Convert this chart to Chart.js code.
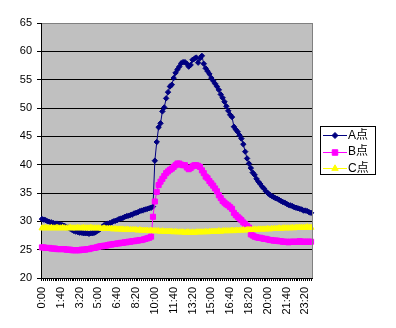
<!DOCTYPE html>
<html><head><meta charset="utf-8">
<script src="https://cdn.jsdelivr.net/npm/chart.js@4/dist/chart.umd.min.js"></script>
<style>html,body{margin:0;padding:0;background:#fff}canvas{display:block}</style>
</head><body>
<canvas id="c" width="396" height="328"></canvas>
<script>
const categories = ("0:00 0:10 0:20 0:30 0:40 0:50 1:00 1:10 1:20 1:30 1:40 1:50 " +
 "2:00 2:10 2:20 2:30 2:40 2:50 3:00 3:10 3:20 3:30 3:40 3:50 " +
 "4:00 4:10 4:20 4:30 4:40 4:50 5:00 5:10 5:20 5:30 5:40 5:50 " +
 "6:00 6:10 6:20 6:30 6:40 6:50 7:00 7:10 7:20 7:30 7:40 7:50 " +
 "8:00 8:10 8:20 8:30 8:40 8:50 9:00 9:10 9:20 9:30 9:40 9:50 " +
 "10:00 10:10 10:20 10:30 10:40 10:50 11:00 11:10 11:20 11:30 11:40 11:50 " +
 "12:00 12:10 12:20 12:30 12:40 12:50 13:00 13:10 13:20 13:30 13:40 13:50 " +
 "14:00 14:10 14:20 14:30 14:40 14:50 15:00 15:10 15:20 15:30 15:40 15:50 " +
 "16:00 16:10 16:20 16:30 16:40 16:50 17:00 17:10 17:20 17:30 17:40 17:50 " +
 "18:00 18:10 18:20 18:30 18:40 18:50 19:00 19:10 19:20 19:30 19:40 19:50 " +
 "20:00 20:10 20:20 20:30 20:40 20:50 21:00 21:10 21:20 21:30 21:40 21:50 " +
 "22:00 22:10 22:20 22:30 22:40 22:50 23:00 23:10 23:20 23:30 23:40 23:50").split(" ");

const seriesNames = ["A点", "B点", "C点"];

const seriesA = [
 30.4,30.3,30.2,30.0,29.9,29.8,29.7,29.6,29.6,29.5,
 29.4,29.3,29.2,29.0,28.9,28.7,28.5,28.3,28.2,28.1,
 28.0,28.0,27.9,27.9,27.9,27.8,27.9,27.9,28.0,28.2,
 28.4,28.7,29.0,29.3,29.5,29.6,29.7,29.8,30.0,30.1,
 30.2,30.4,30.5,30.6,30.8,30.9,31.0,31.1,31.2,31.4,
 31.5,31.6,31.8,31.9,32.0,32.1,32.2,32.3,32.4,32.6,
 40.7,44.0,46.6,47.3,49.4,50.1,51.7,52.8,53.8,54.1,
 55.3,56.2,56.8,57.3,57.9,58.1,58.1,57.8,57.3,57.6,
 58.5,58.7,58.9,58.0,58.8,59.2,57.8,57.0,56.5,56.0,
 55.3,54.8,54.3,53.8,53.2,52.4,51.8,51.1,50.3,49.5,
 48.8,48.4,46.7,46.2,45.8,45.2,44.6,43.6,42.3,41.1,
 40.2,39.4,38.6,38.2,37.5,37.0,36.6,36.1,35.8,35.3,
 35.0,34.7,34.5,34.3,34.1,34.0,33.8,33.6,33.4,33.3,
 33.1,32.9,32.8,32.7,32.5,32.4,32.3,32.2,32.1,31.9,
 31.9,31.8,31.6,31.5
];

const seriesB = [
 25.4,25.4,25.3,25.3,25.3,25.2,25.2,25.2,25.1,25.1,
 25.1,25.1,25.1,25.0,25.0,25.0,24.9,24.9,24.9,24.9,
 24.9,25.0,25.0,25.0,25.1,25.1,25.2,25.3,25.3,25.4,
 25.5,25.6,25.6,25.7,25.7,25.8,25.9,25.9,26.0,26.0,
 26.1,26.1,26.2,26.2,26.3,26.3,26.4,26.4,26.5,26.5,
 26.6,26.6,26.7,26.7,26.8,26.9,27.0,27.1,27.3,30.8,
 33.5,35.2,36.4,37.0,37.5,38.0,38.5,38.8,39.1,39.3,
 39.6,39.9,40.2,40.2,40.0,39.9,39.9,39.5,39.2,39.4,
 39.7,39.9,39.9,39.8,39.6,39.0,38.5,37.9,37.6,37.1,
 36.7,36.3,35.8,35.3,34.6,34.1,33.6,33.3,33.0,32.8,
 32.5,32.2,31.5,31.1,30.8,30.5,30.2,29.8,29.5,29.2,
 28.9,27.7,27.5,27.3,27.2,27.1,27.1,27.0,26.9,26.9,
 26.8,26.7,26.7,26.6,26.6,26.6,26.5,26.5,26.4,26.4,
 26.4,26.3,26.4,26.4,26.4,26.4,26.4,26.5,26.4,26.4,
 26.4,26.4,26.4,26.4
];

const seriesC = [
 28.8,28.8,28.9,28.8,28.8,28.9,28.8,28.8,28.9,28.8,
 28.8,28.9,28.8,28.8,28.8,28.9,28.8,28.8,28.8,28.9,
 28.8,28.8,28.9,28.8,28.8,28.8,28.9,28.8,28.8,28.8,
 28.8,28.8,28.7,28.8,28.7,28.7,28.7,28.7,28.6,28.7,
 28.6,28.6,28.6,28.6,28.5,28.6,28.5,28.5,28.5,28.5,
 28.5,28.4,28.5,28.4,28.4,28.4,28.4,28.3,28.4,28.3,
 28.3,28.3,28.3,28.2,28.3,28.2,28.2,28.2,28.2,28.2,
 28.1,28.2,28.1,28.1,28.1,28.1,28.0,28.1,28.1,28.0,
 28.1,28.0,28.1,28.1,28.1,28.1,28.1,28.2,28.1,28.2,
 28.2,28.2,28.2,28.2,28.3,28.2,28.3,28.3,28.3,28.3,
 28.3,28.4,28.3,28.4,28.4,28.4,28.4,28.5,28.4,28.5,
 28.5,28.5,28.5,28.6,28.5,28.6,28.6,28.6,28.6,28.6,
 28.7,28.6,28.7,28.7,28.7,28.7,28.8,28.7,28.8,28.8,
 28.8,28.8,28.8,28.9,28.8,28.9,28.9,28.9,28.9,28.9,
 28.9,29.0,28.9,28.9
];

const yMin = 20, yMax = 65, yStep = 5;
const labelEvery = 10;

const FONT = '"Liberation Sans", Arial, "Noto Sans CJK JP", sans-serif';

const excelPlugin = {
  id: 'excelLook',
  beforeDraw(chart) {
    const {ctx, chartArea: a} = chart;
    ctx.save();
    ctx.fillStyle = '#C0C0C0';
    ctx.fillRect(a.left, a.top, a.right - a.left, a.bottom - a.top);
    ctx.restore();
  },
  afterDraw(chart) {
    const {ctx, chartArea: a} = chart;
    ctx.save();
    ctx.strokeStyle = '#808080';
    ctx.lineWidth = 1;
    ctx.beginPath();
    ctx.moveTo(Math.round(a.right) + 0.5, a.top);
    ctx.lineTo(Math.round(a.right) + 0.5, a.bottom);
    ctx.stroke();

    // legend box
    const lx = 320, ly = 126, lw = 55, lh = 48;
    ctx.fillStyle = '#fff';
    ctx.fillRect(lx, ly, lw, lh);
    ctx.strokeStyle = '#000';
    ctx.strokeRect(lx + 0.5, ly + 0.5, lw, lh);
    const rows = [135, 151.5, 168];
    chart.data.datasets.forEach((ds, i) => {
      const y = rows[i];
      ctx.strokeStyle = ds.borderColor;
      ctx.lineWidth = 1;
      ctx.beginPath();
      ctx.moveTo(323, Math.round(y) + 0.5);
      ctx.lineTo(347, Math.round(y) + 0.5);
      ctx.stroke();
      ctx.fillStyle = ds.pointBackgroundColor;
      ctx.strokeStyle = ds.pointBorderColor;
      Chart.helpers.drawPoint(ctx, {pointStyle: ds.pointStyle, radius: ds.pointRadius + 0.3, rotation: 0, borderWidth: 1}, 335, Math.round(y) + 0.5);
      ctx.fillStyle = '#000';
      ctx.font = '12px ' + FONT;
      ctx.textBaseline = 'middle';
      ctx.textAlign = 'left';
      ctx.fillText(ds.label, 348, y + 0.5);
    });
    ctx.restore();
  }
};

new Chart(document.getElementById('c'), {
  type: 'line',
  data: {
    labels: categories,
    datasets: [
      {label: seriesNames[0], data: seriesA, borderColor: '#000080', backgroundColor: '#000080',
       pointBackgroundColor: '#000080', pointBorderColor: '#000080', pointStyle: 'rectRot',
       pointRadius: 2.7, pointBorderWidth: 1, borderWidth: 1, order: 3},
      {label: seriesNames[1], data: seriesB, borderColor: '#FF00FF', backgroundColor: '#FF00FF',
       pointBackgroundColor: '#FF00FF', pointBorderColor: '#FF00FF', pointStyle: 'rect',
       pointRadius: 3.6, pointBorderWidth: 1, borderWidth: 1, order: 2},
      {label: seriesNames[2], data: seriesC, borderColor: '#FFFF00', backgroundColor: '#FFFF00',
       pointBackgroundColor: '#FFFF00', pointBorderColor: '#FFFF00', pointStyle: 'triangle',
       pointRadius: 3.4, pointBorderWidth: 1, borderWidth: 1, order: 1}
    ]
  },
  options: {
    responsive: false,
    animation: false,
    devicePixelRatio: 1,
    layout: {padding: {top: 23, right: 84, left: 0, bottom: 0}},
    plugins: {legend: {display: false}, tooltip: {enabled: false}},
    elements: {line: {tension: 0}},
    scales: {
      x: {
        type: 'category',
        offset: true,
        grid: {display: true, drawOnChartArea: false, drawTicks: true, tickLength: 3,
               color: '#000', tickColor: '#000', offset: false},
        border: {color: '#000', width: 1},
        ticks: {
          autoSkip: false, maxRotation: 90, minRotation: 90, padding: 6, color: '#000',
          font: {family: FONT, size: 11},
          callback: (v, i) => (i % labelEvery === 0 ? categories[i] : '')
        },
        afterFit(s) { s.height = 50; }
      },
      y: {
        min: yMin, max: yMax,
        ticks: {stepSize: yStep, padding: 5, color: '#000', font: {family: FONT, size: 11}},
        grid: {color: c => (c.tick && c.tick.value === yMax ? '#808080' : '#000'),
               tickLength: 4, tickColor: '#000', lineWidth: 1},
        border: {color: '#000', width: 1},
        afterFit(s) { s.width = 41; }
      }
    }
  },
  plugins: [excelPlugin]
});
</script>
</body></html>
